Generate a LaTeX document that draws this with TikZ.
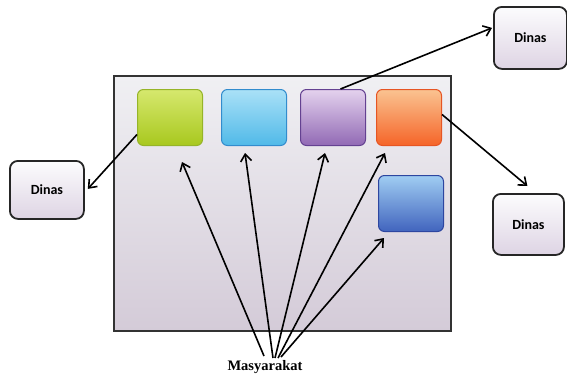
\documentclass[tikz,border=0pt]{standalone}
\usepackage{fontspec}
\setmainfont{Liberation Serif}
\newfontfamily\dinasfont{Carlito}
\usetikzlibrary{arrows.meta,shadings,calc}
\definecolor{gT}{RGB}{214,232,110}\definecolor{gB}{RGB}{168,200,30}\definecolor{gD}{RGB}{150,180,40}
\definecolor{cT}{RGB}{170,225,247}\definecolor{cB}{RGB}{80,185,232}\definecolor{cD}{RGB}{50,140,205}
\definecolor{pT}{RGB}{228,210,238}\definecolor{pB}{RGB}{145,105,180}\definecolor{pD}{RGB}{100,65,145}
\definecolor{oT}{RGB}{250,195,145}\definecolor{oB}{RGB}{245,100,40}\definecolor{oD}{RGB}{230,85,35}
\definecolor{bT}{RGB}{160,205,242}\definecolor{bB}{RGB}{65,100,190}\definecolor{bD}{RGB}{45,70,160}
\definecolor{fT}{RGB}{240,240,243}\definecolor{fB}{RGB}{212,203,216}
\definecolor{dT}{RGB}{252,252,253}\definecolor{dB}{RGB}{222,212,228}
\tikzset{
  cbox/.style={rounded corners=6pt, minimum width=65pt, minimum height=56pt, anchor=north west, line width=1pt, inner sep=0pt},
  dinas/.style={draw=black!85, line width=1.8pt, rounded corners=8pt, top color=dT, bottom color=dB, minimum width=74pt, minimum height=58pt, anchor=north west, font=\dinasfont\bfseries\fontsize{14}{16}\selectfont, inner sep=0pt},
  arr/.style={-{Straight Barb[length=7pt,width=11pt,line width=1.6pt]}, line width=1.6pt, black},
}
\begin{document}
\begin{tikzpicture}[x=1pt,y=-1pt]
\useasboundingbox (0,0) rectangle (567,380);
% frame
\node[draw=black!80, line width=1.5pt, top color=fT, bottom color=fB, minimum width=337pt, minimum height=255pt, anchor=north west, inner sep=0pt] (frame) at (113,75) {};
% colored boxes
\node[cbox, draw=gD, top color=gT, bottom color=gB] (green) at (137,89) {};
\node[cbox, draw=cD, top color=cT, bottom color=cB] (cyan) at (221,89) {};
\node[cbox, draw=pD, top color=pT, bottom color=pB] (purple) at (300,89) {};
\node[cbox, draw=oD, top color=oT, bottom color=oB] (orange) at (376,89) {};
\node[cbox, draw=bD, top color=bT, bottom color=bB] (blue) at (378,175) {};
% Dinas boxes
\node[dinas] (dl) at (9,160) {Dinas};
\node[dinas, minimum width=73pt, minimum height=62pt] (dtr) at (493,6) {Dinas};
\node[dinas, minimum width=71pt, minimum height=61pt] (dr) at (492,193) {Dinas};
% Masyarakat
\node[font=\bfseries\fontsize{14.5}{16}\selectfont, inner sep=0pt] (mas) at (265,367) {Masyarakat};
% arrow coordinates
\coordinate (s1) at (264,356);
\coordinate (s2) at (273,358);
\coordinate (s3) at (275,358);
\coordinate (s4) at (278,358);
\coordinate (s5) at (281,357);
\coordinate (t1) at (182,162);
\coordinate (t2) at (245,153);
\coordinate (t3) at (325,153);
\coordinate (t4) at (385,153);
\coordinate (t5) at (384,238);
\draw[arr] (s1) -- (t1);
\draw[arr] (s2) -- (t2);
\draw[arr] (s3) -- (t3);
\draw[arr] (s4) -- (t4);
\draw[arr] (s5) -- (t5);
% to Dinas
\draw[arr] ($(green.west)+(0,17)$) -- ($(dl.east)+(3,-1)$);
\draw[arr] ($(purple.north)+(7.5,0)$) -- ($(dtr.west)+(-1,-10)$);
\draw[arr] ($(orange.east)+(0,-3)$) -- ($(dr.north)+(-1,-7)$);
\end{tikzpicture}
\end{document}
